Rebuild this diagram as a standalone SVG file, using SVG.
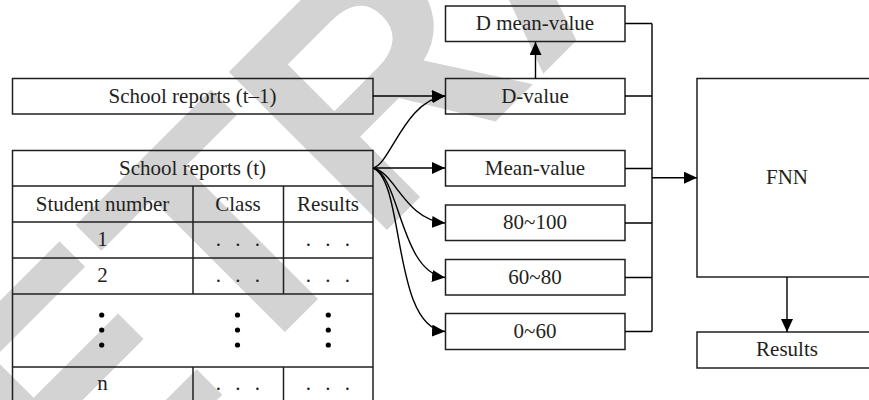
<svg xmlns="http://www.w3.org/2000/svg" width="869" height="400" viewBox="0 0 869 400">
  <defs>
    <style>
      .box { fill: none; stroke: #231f20; stroke-width: 1.5; }
      .ln { fill: none; stroke: #000; stroke-width: 1.4; }
      .t { font-family: "Liberation Serif", "Times New Roman", serif; font-size: 21px; fill: #231f20; text-anchor: middle; }
      .dots { letter-spacing: 4.5px; }
      .wm { font-family: "Liberation Sans", Arial, sans-serif; font-weight: bold; font-size: 325px; fill: #d3d3d3; }
    </style>
    <marker id="ah" markerUnits="userSpaceOnUse" markerWidth="14" markerHeight="13" refX="13" refY="6" orient="auto">
      <path d="M0,0 L13,6 L0,12 z" fill="#000"/>
    </marker>
  </defs>
  <rect width="869" height="400" fill="#fff"/>

  <!-- background stamp -->
  <text class="wm" transform="translate(-88,705) rotate(-45)">RETRACTED</text>

  <!-- previous-term reports -->
  <g id="reports-prev">
    <rect class="box" x="12.5" y="78.5" width="360.5" height="35.5"/>
    <text class="t" x="192.5" y="102.5">School reports (t–1)</text>
  </g>

  <!-- current-term reports table -->
  <g id="reports-current">
    <rect class="box" x="12.5" y="150.5" width="360.5" height="260"/>
    <path class="box" d="M12.5,186 H373 M12.5,222 H373 M12.5,258 H373 M12.5,294 H373 M12.5,367 H373"/>
    <path class="box" d="M193,186 V294 M283.5,186 V294 M193,367 V410 M283.5,367 V410"/>
    <text class="t" x="192.5" y="174.5">School reports (t)</text>
    <text class="t" x="102.5" y="210.5">Student number</text>
    <text class="t" x="238" y="210.5">Class</text>
    <text class="t" x="328" y="210.5">Results</text>
    <text class="t" x="102.5" y="246">1</text>
    <text class="t dots" x="240" y="246">. . .</text>
    <text class="t dots" x="330" y="246">. . .</text>
    <text class="t" x="102.5" y="282">2</text>
    <text class="t dots" x="240" y="282">. . .</text>
    <text class="t dots" x="330" y="282">. . .</text>
    <g fill="#000">
      <circle cx="101.7" cy="315" r="2.6"/><circle cx="101.7" cy="330" r="2.6"/><circle cx="101.7" cy="345" r="2.6"/>
      <circle cx="237.5" cy="315" r="2.6"/><circle cx="237.5" cy="330" r="2.6"/><circle cx="237.5" cy="345" r="2.6"/>
      <circle cx="328.3" cy="315" r="2.6"/><circle cx="328.3" cy="330" r="2.6"/><circle cx="328.3" cy="345" r="2.6"/>
    </g>
    <text class="t" x="102.5" y="390">n</text>
    <text class="t dots" x="240" y="390">. . .</text>
    <text class="t dots" x="330" y="390">. . .</text>
  </g>

  <g id="d-mean-value">
    <rect class="box" x="445.5" y="6" width="179.5" height="35.5"/>
    <text class="t" x="535" y="30">D mean-value</text>
  </g>
  <g id="d-value">
    <rect class="box" x="445.5" y="78.5" width="179.5" height="35.5"/>
    <text class="t" x="535" y="102.5">D-value</text>
  </g>
  <g id="mean-value">
    <rect class="box" x="445.5" y="150.5" width="179.5" height="35.5"/>
    <text class="t" x="535" y="174.5">Mean-value</text>
  </g>
  <g id="range-80-100">
    <rect class="box" x="445.5" y="205" width="179.5" height="35.5"/>
    <text class="t" x="535" y="229">80~100</text>
  </g>
  <g id="range-60-80">
    <rect class="box" x="445.5" y="259.5" width="179.5" height="35.5"/>
    <text class="t" x="535" y="283.5">60~80</text>
  </g>
  <g id="range-0-60">
    <rect class="box" x="445.5" y="313.5" width="179.5" height="36"/>
    <text class="t" x="535" y="338">0~60</text>
  </g>
  <g id="fnn">
    <rect class="box" x="697" y="78.5" width="180" height="198.5"/>
    <text class="t" x="787" y="184">FNN</text>
  </g>
  <g id="results">
    <rect class="box" x="697" y="332" width="180" height="36"/>
    <text class="t" x="787" y="356">Results</text>
  </g>

  <g id="connectors">
    <path class="ln" d="M373,96 H445" marker-end="url(#ah)"/>
    <path class="ln" d="M373,168 C390,165 405,100 445,96" marker-end="url(#ah)"/>
    <path class="ln" d="M373,168 H445" marker-end="url(#ah)"/>
    <path class="ln" d="M373,168 C395,172 405,220 445,223" marker-end="url(#ah)"/>
    <path class="ln" d="M373,168 C400,175 400,272 445,277.5" marker-end="url(#ah)"/>
    <path class="ln" d="M373,168 C405,180 392,328 445,331.5" marker-end="url(#ah)"/>
    <path class="ln" d="M535.5,78.5 V42" marker-end="url(#ah)"/>
    <path class="ln" d="M625,23.5 H652 M625,96 H652 M625,168.5 H652 M625,223 H652 M625,277.5 H652 M625,331.5 H652 M652,23.5 V331.5"/>
    <path class="ln" d="M652,177.7 H697" marker-end="url(#ah)"/>
    <path class="ln" d="M787,277 V332" marker-end="url(#ah)"/>
  </g>
</svg>
